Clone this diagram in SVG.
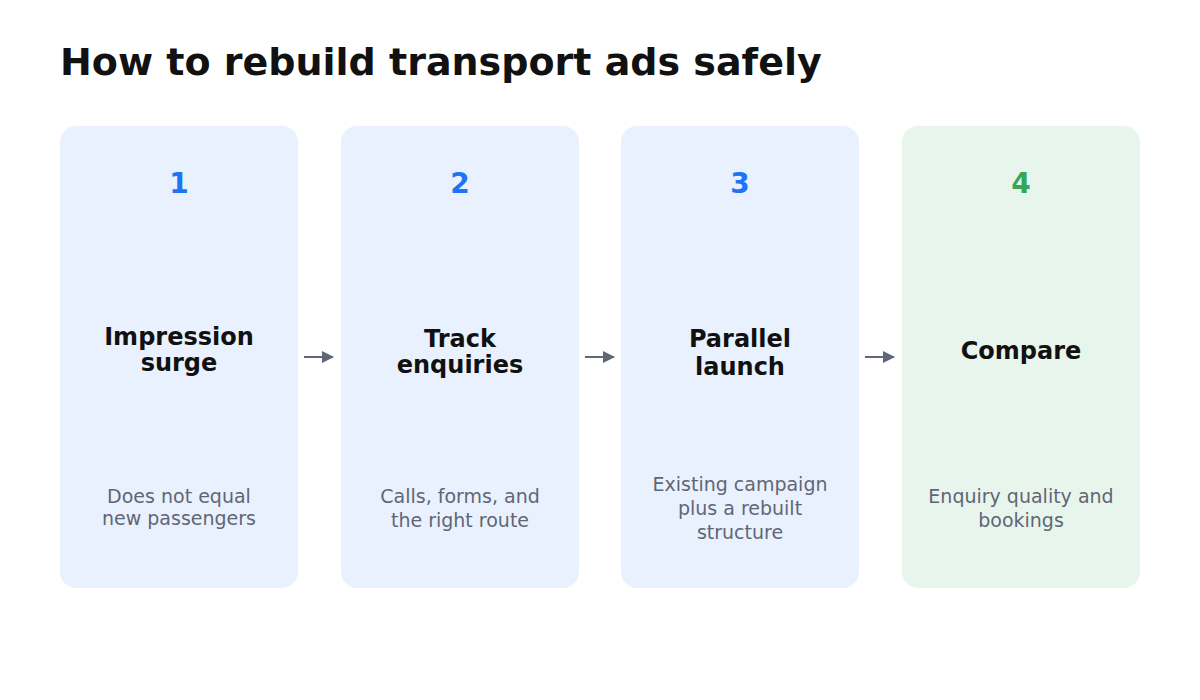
<svg xmlns="http://www.w3.org/2000/svg" width="1200" height="700" viewBox="0 0 1200 700">
<defs>
<marker id="ah" markerWidth="12" markerHeight="12" refX="11" refY="6" orient="auto" markerUnits="userSpaceOnUse"><path d="M0,0 L12,6 L0,12 Z" fill="#5f6675"/></marker>
<style>
text{font-family:"DejaVu Sans",sans-serif;text-anchor:middle}
.t{font-size:38px;font-weight:bold;fill:#111;text-anchor:start}
.n{font-size:28px;font-weight:bold;fill:#1f74f5}
.g{fill:#34a853}
.h{font-size:24px;font-weight:bold;fill:#111}
.d{font-size:19px;fill:#5f6675}
.b{fill:#e9f1fe}
.bg{fill:#e8f5ed}
.c{stroke:#5f6675;stroke-width:2;fill:none;marker-end:url(#ah)}
</style>
</defs>
<rect width="1200" height="700" fill="#fff"/>
<text class="t" x="60" y="75">How to rebuild transport ads safely</text>
<g id="node1"><rect class="b" x="60" y="126" width="238" height="462" rx="16"/><text class="n" x="179" y="193">1</text><text class="h" x="179" y="345">Impression</text><text class="h" x="179" y="371">surge</text><text class="d" x="179" y="503">Does not equal</text><text class="d" x="179" y="525">new passengers</text></g>
<g id="node2"><rect class="b" x="341" y="126" width="238" height="462" rx="16"/><text class="n" x="460" y="193">2</text><text class="h" x="460" y="347">Track</text><text class="h" x="460" y="373">enquiries</text><text class="d" x="460" y="503">Calls, forms, and</text><text class="d" x="460" y="527">the right route</text></g>
<g id="node3"><rect class="b" x="621" y="126" width="238" height="462" rx="16"/><text class="n" x="740" y="193">3</text><text class="h" x="740" y="347">Parallel</text><text class="h" x="740" y="375">launch</text><text class="d" x="740" y="491">Existing campaign</text><text class="d" x="740" y="515">plus a rebuilt</text><text class="d" x="740" y="539">structure</text></g>
<g id="node4"><rect class="bg" x="902" y="126" width="238" height="462" rx="16"/><text class="n g" x="1021" y="193">4</text><text class="h" x="1021" y="359">Compare</text><text class="d" x="1021" y="503">Enquiry quality and</text><text class="d" x="1021" y="527">bookings</text></g>
<g id="connectors">
<line class="c" x1="304" y1="357" x2="333" y2="357"/>
<line class="c" x1="585" y1="357" x2="614" y2="357"/>
<line class="c" x1="865" y1="357" x2="894" y2="357"/>
</g>
</svg>
